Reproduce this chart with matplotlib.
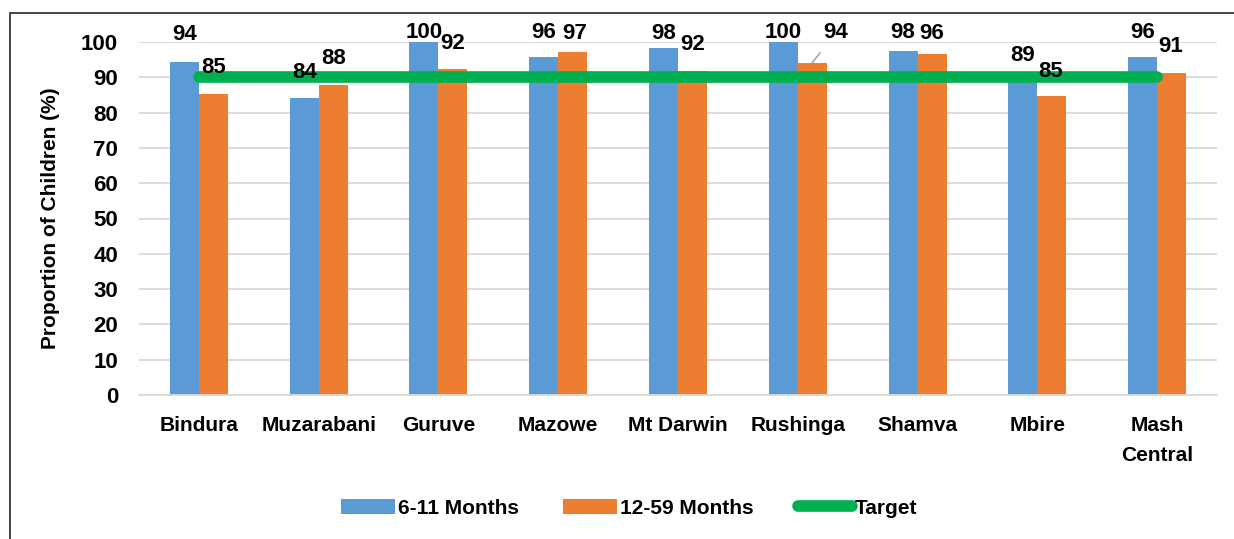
import matplotlib.pyplot as plt
import numpy as np
from matplotlib.patches import Rectangle

districts = ['Bindura', 'Muzarabani', 'Guruve', 'Mazowe', 'Mt Darwin',
             'Rushinga', 'Shamva', 'Mbire', 'Mash\nCentral']
months_6_11 = [94.4, 84.2, 100, 95.8, 98.2, 100, 97.5, 89.2, 95.8]
months_12_59 = [85.3, 87.9, 92.3, 97.1, 91.9, 94.1, 96.5, 84.8, 91.3]
target = [90, 90, 90, 90, 90, 90, 90, 90, 90]

# label nudges in pixels (dx, dy above bar top), hand placed like the original
nudge_blue = [(0, 27), (0, 25), (0, 9), (0, 24), (0, 15), (0, 9), (0, 18), (0, 25), (0, 24)]
nudge_orange = [(0, 26), (0, 26), (0, 26), (2, 19), (0, 26), (23, 30), (0, 21), (-1, 24), (-1, 26)]

BLUE = '#5B9BD5'
ORANGE = '#ED7D31'
GREEN = '#00B050'
GRID = '#D9D9D9'
FONT = ['Liberation Sans', 'DejaVu Sans']
plt.rcParams['font.family'] = FONT
plt.rcParams['font.weight'] = 'bold'

fig = plt.figure(figsize=(12.34, 5.39), dpi=100)
ax = fig.add_axes([139 / 1234, 1 - 395 / 539, 1078 / 1234, 353 / 539])

x = np.arange(len(districts))
w = 0.242
b1 = ax.bar(x - w / 2, months_6_11, w, color=BLUE, label='6-11 Months', zorder=2)
b2 = ax.bar(x + w / 2, months_12_59, w, color=ORANGE, label='12-59 Months', zorder=2)
ln, = ax.plot(x, target, color=GREEN, lw=8.4, solid_capstyle='round', label='Target', zorder=3)

px = 0.72  # points per pixel at 100 dpi
for i in range(len(districts)):
    dx, dy = nudge_blue[i]
    ax.annotate(f'{months_6_11[i]:.0f}', (x[i] - w / 2, months_6_11[i]),
                xytext=(dx * px, dy * px), textcoords='offset points',
                ha='center', va='center', fontsize=16, fontweight='bold', zorder=5,
                annotation_clip=False)
    dx, dy = nudge_orange[i]
    arrow = None
    if dx > 10:
        arrow = dict(arrowstyle='-', color='#A6A6A6', lw=1.2, shrinkA=6, shrinkB=0)
    ax.annotate(f'{months_12_59[i]:.0f}', (x[i] + w / 2, months_12_59[i]),
                xytext=(dx * px, dy * px), textcoords='offset points',
                ha='center', va='center', fontsize=16, fontweight='bold', zorder=5,
                arrowprops=arrow, annotation_clip=False)

ax.set_xlim(-0.5, len(districts) - 0.5)
ax.set_ylim(0, 100)
ax.set_yticks(range(0, 101, 10))
ax.set_xticks(x)
ax.set_xticklabels(districts, fontsize=15, fontweight='bold', linespacing=1.75)
ax.tick_params(axis='y', length=0, pad=15, labelsize=16)
ax.tick_params(axis='x', length=0, pad=15)
ax.yaxis.grid(True, color=GRID, lw=1.3, zorder=0)
ax.set_axisbelow(True)
for s in ['top', 'right', 'left']:
    ax.spines[s].set_visible(False)
ax.spines['bottom'].set_color(GRID)
ax.spines['bottom'].set_linewidth(1.3)

ax.set_ylabel('Proportion of Children (%)', fontsize=15, fontweight='bold')
ax.yaxis.set_label_coords(-0.0733, 0.5)

fig.legend(handles=[b1, b2, ln], loc='center', bbox_to_anchor=(0.51, 1 - 508 / 539),
           ncol=3, frameon=False, fontsize=15, handlelength=2.6, handletextpad=0.15,
           columnspacing=2.1)

# chart area border (left and top edges show in the crop)
fig.patches.append(Rectangle((10 / 1234, -0.2), 2, 1.2 - 13 / 539, transform=fig.transFigure,
                             fill=False, edgecolor='#262626', lw=1.2))

fig.savefig('out.png', dpi=100)
